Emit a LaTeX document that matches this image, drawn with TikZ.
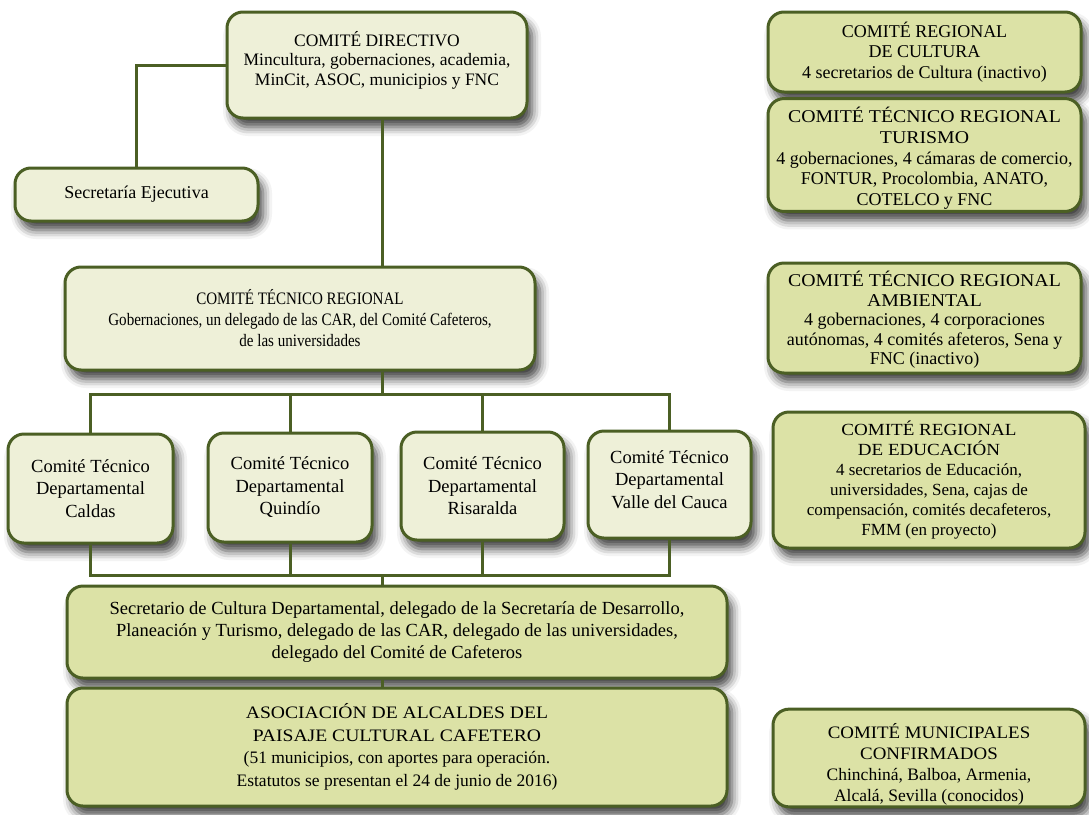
\documentclass[tikz,border=0pt]{standalone}
\usepackage{fontspec}
\usepackage{graphicx}
\setmainfont{Liberation Serif}
\usetikzlibrary{shadows.blur}
\definecolor{olive}{HTML}{4B5F24}
\definecolor{cream}{HTML}{EEF0D8}
\definecolor{lime}{HTML}{DCE2A6}
\newcommand\wide[2][1.1]{\scalebox{#1}[1]{#2}}
\begin{document}
\begin{tikzpicture}[x=1pt,y=-1pt,
  orgbox/.style={draw=olive, line width=3pt, rounded corners=16pt, align=center,
    inner sep=2pt, font=\fontsize{16}{20}\selectfont,
    blur shadow={shadow xshift=5pt, shadow yshift=-9pt, shadow blur radius=9pt, shadow opacity=75}},
  light/.style={orgbox, fill=cream},
  dark/.style={orgbox, fill=lime},
  dept/.style={light, font=\fontsize{18.5}{22.5}\selectfont},
  link/.style={draw=olive, line width=3pt}]
\useasboundingbox (0,0) rectangle (1089,814);
% left column
\node[light, minimum width=300pt, minimum height=106pt, font=\fontsize{17.5}{19.5}\selectfont, text depth=14pt] (dir) at (377,65)
  {COMITÉ DIRECTIVO\\ Mincultura, gobernaciones, academia,\\ MinCit, ASOC, municipios y FNC};
\node[light, minimum width=243pt, minimum height=53pt, font=\fontsize{18}{20}\selectfont] (sec) at (136.5,194.5)
  {Secretaría Ejecutiva};
\node[light, minimum width=470pt, minimum height=103pt, font=\fontsize{17.5}{21}\selectfont] (ctr) at (300,318.5)
  {\wide[0.86]{COMITÉ TÉCNICO REGIONAL}\\ \wide[0.86]{Gobernaciones, un delegado de las CAR, del Comité Cafeteros,}\\ \wide[0.86]{de las universidades}};
\node[dept, minimum width=165pt, minimum height=109pt] (cal) at (90.5,488.5)
  {Comité Técnico\\ Departamental\\ Caldas};
\node[dept, minimum width=164pt, minimum height=109pt] (qui) at (290,487.5)
  {Comité Técnico\\ Departamental\\ Quindío};
\node[dept, minimum width=163pt, minimum height=108pt] (ris) at (482.5,486)
  {Comité Técnico\\ Departamental\\ Risaralda};
\node[dept, minimum width=163pt, minimum height=107pt, text depth=10pt] (val) at (669.5,484.5)
  {Comité Técnico\\ Departamental\\ Valle del Cauca};
\node[dark, minimum width=660pt, minimum height=92pt, font=\fontsize{18.5}{22}\selectfont] (scd) at (397,632)
  {Secretario de Cultura Departamental, delegado de la Secretaría de Desarrollo,\\ Planeación y Turismo, delegado de las CAR, delegado de las universidades,\\ delegado del Comité de Cafeteros};
\node[dark, minimum width=660pt, minimum height=118pt, font=\fontsize{17.5}{22.5}\selectfont] (aso) at (397,747)
  {\wide[1.12]{ASOCIACIÓN DE ALCALDES DEL}\\ \wide[1.12]{PAISAJE CULTURAL CAFETERO}\\ (51 municipios, con aportes para operación.\\ Estatutos se presentan el 24 de junio de 2016)};
% right column
\node[dark, minimum width=313pt, minimum height=80pt, font=\fontsize{18}{20.5}\selectfont] (cul) at (924.5,52)
  {COMITÉ REGIONAL\\ DE CULTURA\\ 4 secretarios de Cultura (inactivo)};
\node[dark, minimum width=313pt, minimum height=110pt, font=\fontsize{18}{20.75}\selectfont] (tur) at (924.5,155)
  {\rule{0pt}{22pt}\wide{COMITÉ TÉCNICO REGIONAL}\\ \wide{TURISMO}\\ 4 gobernaciones, 4 cámaras de comercio,\\ FONTUR, Procolombia, ANATO,\\ COTELCO y FNC};
\node[dark, minimum width=313pt, minimum height=110pt, font=\fontsize{18}{19.5}\selectfont] (amb) at (924.5,318)
  {\rule{0pt}{19pt}\wide{COMITÉ TÉCNICO REGIONAL}\\ \wide{AMBIENTAL}\\ 4 gobernaciones, 4 corporaciones\\ autónomas, 4 comités afeteros, Sena y\\ FNC (inactivo)};
\node[dark, minimum width=312pt, minimum height=136pt, font=\fontsize{17}{20}\selectfont] (edu) at (929,480)
  {\wide[1.12]{COMITÉ REGIONAL}\\ \wide[1.12]{DE EDUCACIÓN}\\ 4 secretarios de Educación,\\ universidades, Sena, cajas de\\ compensación, comités decafeteros,\\ FMM (en proyecto)};
\node[dark, minimum width=312pt, minimum height=96pt, font=\fontsize{17.5}{21}\selectfont] (mun) at (929,758)
  {\rule{0pt}{27pt}\wide[1.08]{COMITÉ MUNICIPALES}\\ \wide[1.08]{CONFIRMADOS}\\ Chinchiná, Balboa, Armenia,\\ Alcalá, Sevilla (conocidos)};
% connectors
\coordinate (spine) at (382,0);
\coordinate (tb) at (0,394);
\coordinate (bb) at (0,575);
\draw[link] (sec.north) |- (dir.west);
\draw[link] (dir.south -| spine) -- (ctr.north -| spine);
\draw[link] (ctr.south -| spine) -- (spine |- tb);
\draw[link] (cal.north) -- (cal.north |- tb) -- (val.north |- tb) -- (val.north);
\draw[link] (qui.north) -- (qui.north |- tb);
\draw[link] (ris.north) -- (ris.north |- tb);
\draw[link] (cal.south) -- (cal.south |- bb) -- (val.south |- bb) -- (val.south);
\draw[link] (qui.south) -- (qui.south |- bb);
\draw[link] (ris.south) -- (ris.south |- bb);
\draw[link] (spine |- bb) -- (scd.north -| spine);
\draw[link] (scd.south -| spine) -- (aso.north -| spine);
\end{tikzpicture}
\end{document}
